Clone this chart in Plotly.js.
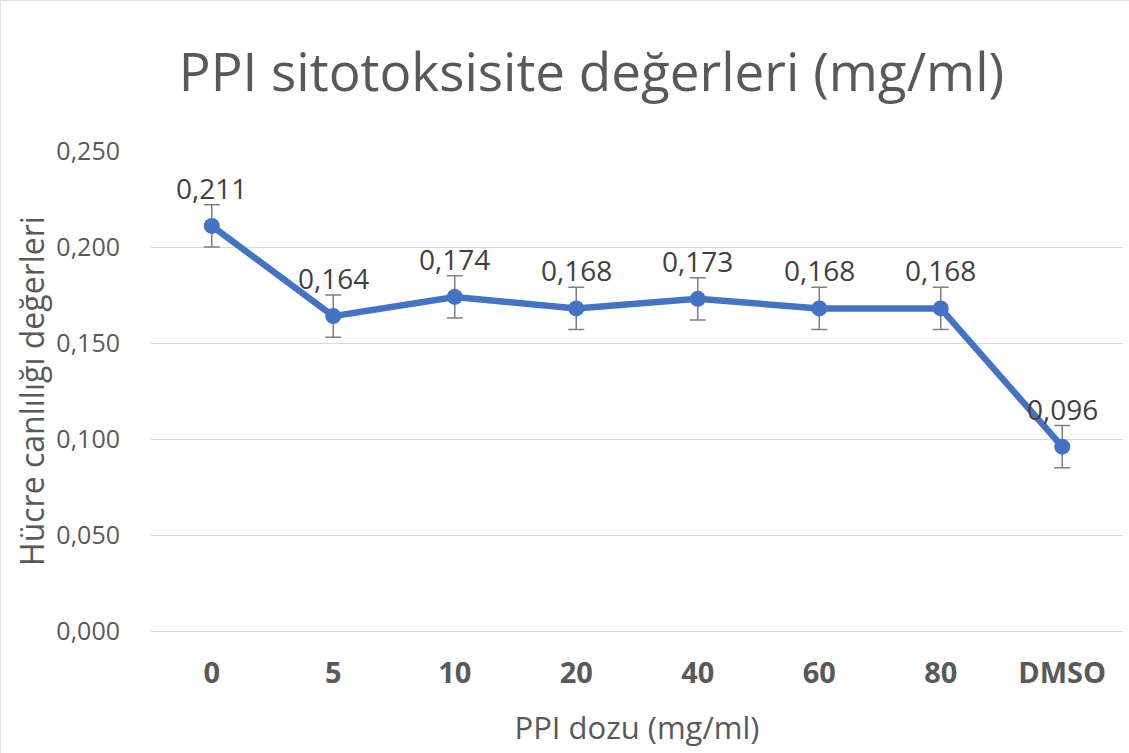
<!DOCTYPE html>
<html><head><meta charset="utf-8">
<script src="https://cdn.plot.ly/plotly-3.0.1.min.js"></script>
<style>html,body{margin:0;padding:0;background:#fff}#c{width:1129px;height:753px;box-sizing:border-box;border:1px solid #e3e3e3}</style>
</head><body><div id="c"></div>
<script>
const categories = ["0","5","10","20","40","60","80","DMSO"];
const values = [0.211,0.164,0.174,0.168,0.173,0.168,0.168,0.096];
const errors = [0.011,0.011,0.011,0.011,0.011,0.011,0.011,0.011];
const yTicks = [0,0.05,0.1,0.15,0.2,0.25];

const fmt = v => v.toFixed(3).replace('.', ',');
const F = 'Open Sans, sans-serif';
const trace = {
  x: categories, y: values, type:'scatter', mode:'lines+markers',
  line:{color:'#4472C4', width:6.5},
  marker:{color:'#4472C4', size:16},
  error_y:{type:'data', array:errors, visible:true, color:'#7f7f7f', thickness:1.5, width:8},
  hoverinfo:'skip'
};
const annotations = categories.map((c,i)=>({
  x:i, y:values[i], xref:'x', yref:'y', text:fmt(values[i]), showarrow:false,
  yshift:38, font:{family:F, size:28, color:'#404040'}
}));
const layout = {
  width:1129, height:753, separators:', ',
  margin:{l:150,r:7,t:150,b:123},
  paper_bgcolor:'#fff', plot_bgcolor:'#fff',
  showlegend:false,
  title:{text:'PPI sitotoksisite değerleri (mg/ml)', font:{family:F, size:53, color:'#595959'},
    x:0.523, xref:'container', xanchor:'center', y:0.905, yref:'container', yanchor:'middle'},
  xaxis:{type:'category', range:[-0.5,7.5], showgrid:false, zeroline:false, showline:false, ticks:'',
    tickfont:{family:F, size:29, color:'#595959', weight:'bold'},
    ticklabelstandoff:22,
    title:{text:'PPI dozu (mg/ml)', font:{family:F, size:31, color:'#595959'}, standoff:27}},
  yaxis:{range:[0,0.25], tickvals:yTicks, tickformat:'.3f', showgrid:true, gridcolor:'#d9d9d9', gridwidth:1,
    zeroline:true, zerolinecolor:'#d9d9d9', zerolinewidth:1, showline:false, ticks:'',
    tickfont:{family:F, size:25, color:'#595959'}, ticklabelstandoff:30,
    title:{text:'Hücre canlılığı değerleri', font:{family:F, size:32, color:'#595959'}, standoff:2}},
  annotations: annotations
};
Plotly.newPlot('c',[trace],layout,{displayModeBar:false, staticPlot:true});
</script></body></html>
